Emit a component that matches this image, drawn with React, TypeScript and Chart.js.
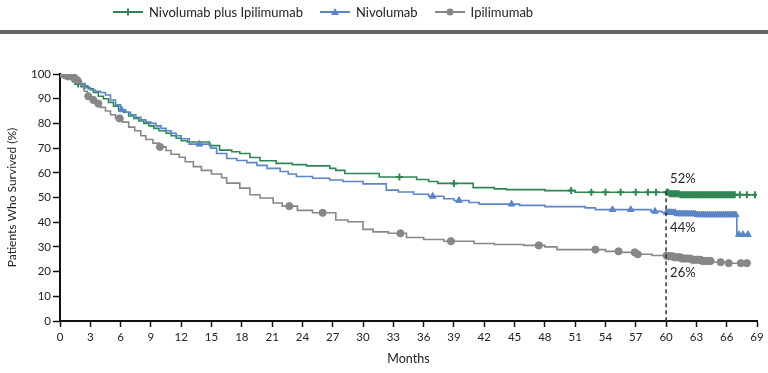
import React, { useEffect, useRef } from 'react';
import { Chart, registerables } from 'chart.js';

Chart.register(...registerables);

// ---------------- data ----------------
const seriesNames = ['Nivolumab plus Ipilimumab', 'Nivolumab', 'Ipilimumab'];
const seriesColors = ['#2F8653', '#5B85C6', '#878787'];

const monthTicks = [0, 3, 6, 9, 12, 15, 18, 21, 24, 27, 30, 33, 36, 39, 42, 45, 48, 51, 54, 57, 60, 63, 66, 69];
const survivalTicks = [0, 10, 20, 30, 40, 50, 60, 70, 80, 90, 100];

// Kaplan-Meier steps: [month, survival % after the drop]
const comboSteps: [number, number][] = [
  [0, 100], [0.5, 99], [1, 98], [1.4, 97], [1.8, 96], [2.3, 95], [2.8, 94], [3.3, 92.5], [3.8, 91],
  [4.3, 90], [4.8, 88.5], [5.3, 87], [5.8, 85.5], [6.3, 84.5], [6.8, 83], [7.3, 82], [7.8, 81],
  [8.3, 80], [8.8, 79], [9.3, 78], [9.8, 77], [10.5, 76], [11, 75], [11.5, 74], [12, 73], [12.6, 72.5],
  [14.8, 71], [15.8, 69.2], [17, 68.5], [17.8, 67.8], [18.8, 66.2], [19.8, 64.9], [21.4, 63.8],
  [23, 63.3], [24.4, 62.8], [26.7, 61.8], [27.3, 61], [28.2, 59.7], [31.6, 58.3], [35.3, 57.3],
  [36.5, 56.5], [37.4, 55.7], [40.9, 54], [43, 53.5], [44.2, 53.2], [48, 52.8], [51, 52.1],
  [60.3, 51.5], [61.3, 51.1], [69, 51.1],
];
const nivoSteps: [number, number][] = [
  [0, 100], [0.5, 99], [1, 98], [1.5, 97], [2, 96], [2.5, 94.5], [3, 93.5], [3.5, 93], [4, 92.5],
  [4.5, 91.5], [5, 89.5], [5.5, 87.5], [6, 85.5], [6.5, 84.5], [7, 83.5], [7.5, 82.5], [8, 81.5], [8.5, 80.5],
  [9, 80], [9.5, 79], [10, 78], [10.5, 77], [11, 76], [11.5, 75], [12, 73.8], [12.8, 71.6],
  [14.9, 70], [15.5, 67.8], [16.5, 65.8], [17.5, 65], [18.5, 64.1], [19.5, 63], [20.5, 61.8],
  [21.8, 60.5], [22.6, 59.5], [23.4, 58.5], [25, 57.8], [26.7, 57.1], [28, 56.5], [30, 55.5],
  [32.3, 53], [33.5, 52.2], [35, 51.3], [36.5, 50.5], [38, 49.5], [39, 48.8], [40.5, 48], [41.5, 47.3],
  [45.5, 46.8], [48, 46.3], [52, 45.8], [53, 45.1], [58.5, 44.4], [59.6, 43.9], [61, 43.4], [63, 43],
  [67, 35], [68.1, 35],
];
const ipiSteps: [number, number][] = [
  [0, 100], [0.3, 99.5], [0.7, 99], [1.2, 98.5], [1.7, 97.5], [2.1, 95.5], [2.4, 93], [2.7, 91],
  [3.1, 89.5], [3.5, 88], [4, 86.5], [4.5, 85], [5, 83.5], [5.5, 82], [6.2, 80.5], [6.8, 78.5],
  [7.4, 77], [8, 75], [8.5, 73.5], [9.2, 72], [9.8, 70.5], [10.5, 69], [11, 67.5], [11.8, 66.3],
  [12.4, 64.5], [13.2, 62.5], [14, 61], [15, 59.5], [16, 58], [16.5, 55.8], [17.8, 53.8], [18.8, 51.1],
  [19.8, 49.8], [21.1, 47.8], [22, 46.5], [23.5, 44.8], [25, 43.8], [27.3, 40.9], [28.5, 40.2],
  [30, 37.1], [31, 36.1], [32.5, 35.5], [34.3, 33.8], [36, 33], [38, 32.3], [41, 31.4], [43, 31],
  [45.9, 30.6], [48, 30], [49.2, 28.9], [54, 28.2], [55.5, 27.8], [57, 27], [58.6, 26.5], [60.2, 26.2],
  [60.8, 25.8], [61.5, 25.3], [62.5, 24.8], [63.5, 24.3], [64.6, 23.8], [66, 23.4], [68, 23.4],
];

// censoring marks (months)
const comboCensor = [
  1.5, 1.8, 2.1, 2.4, 33.6, 39, 50.6, 52.6, 54, 55.5, 57, 58.2, 59,
  60.05, 60.2, 60.35, 60.5, 60.65, 60.8, 60.95, 61.1, 61.25, 61.4, 61.55, 61.7, 61.85, 62, 62.15,
  62.3, 62.45, 62.6, 62.75, 62.9, 63.05, 63.2, 63.35, 63.5, 63.65, 63.8, 63.95, 64.1, 64.25, 64.4,
  64.55, 64.7, 64.85, 65, 65.15, 65.3, 65.45, 65.6, 65.75, 65.9, 66.05, 66.2, 66.35, 66.5, 66.65,
  66.8, 67.3, 68, 68.8,
];
const nivoCensor = [
  6.1, 13.8, 36.9, 39.5, 44.7, 54.7, 56.5, 58.9,
  60.05, 60.2, 60.35, 60.5, 60.7, 60.9, 61.1, 61.3, 61.5, 61.7, 61.9, 62.1, 62.3, 62.5, 62.7, 62.9,
  63.1, 63.3, 63.5, 63.7, 63.9, 64.1, 64.3, 64.5, 64.7, 64.9, 65.1, 65.3, 65.5, 65.7, 65.9, 66.1,
  66.3, 66.5, 66.7, 66.9, 67.2, 67.6, 68.1,
];
const ipiCensor = [
  0.2, 0.5, 0.8, 1.1, 1.4, 1.7, 2.8, 3.3, 3.8, 5.9, 9.9, 22.7, 26, 33.7, 38.7, 47.4, 53, 55.3, 56.9, 57.2,
  60.05, 60.2, 60.35, 60.5, 60.65, 60.8, 60.95, 61.1, 61.25, 61.4, 61.55, 61.7, 61.85, 62, 62.2, 62.4,
  62.6, 62.8, 63, 63.2, 63.4, 63.6, 63.8, 64, 64.2, 64.4, 65.4, 66.2, 67.4, 68,
];

const landmarkMonth = 60;
const landmarkValues = [52, 44, 26];
const landmarkLabels = ['52%', '44%', '26%'];

// ---------------- helpers ----------------
function survivalAt(steps: [number, number][], t: number): number {
  let v = steps[0][1];
  for (const [m, s] of steps) {
    if (m <= t) v = s;
    else break;
  }
  return v;
}

const FONT = 'Lato, "Open Sans", sans-serif';
const TEXT = '#222222';

const landmarkPlugin = {
  id: 'landmark',
  afterDatasetsDraw(chart: any) {
    const { ctx } = chart;
    const xs = chart.scales.x;
    const ys = chart.scales.y;
    const x = xs.getPixelForValue(landmarkMonth);
    ctx.save();
    ctx.strokeStyle = '#333333';
    ctx.lineWidth = 1.5;
    ctx.setLineDash([4, 3]);
    ctx.beginPath();
    ctx.moveTo(x, ys.getPixelForValue(Math.max(...landmarkValues) + 0.5));
    ctx.lineTo(x, ys.getPixelForValue(0));
    ctx.stroke();
    ctx.setLineDash([]);
    ctx.fillStyle = TEXT;
    ctx.font = `13px ${FONT}`;
    ctx.textAlign = 'left';
    ctx.textBaseline = 'middle';
    const offsets = [-14, 15, 16];
    landmarkValues.forEach((v, i) => {
      ctx.fillText(landmarkLabels[i], x + 4, ys.getPixelForValue(v) + offsets[i]);
    });
    ctx.restore();
  },
};

function LegendIcon({ idx }: { idx: number }) {
  const c = seriesColors[idx];
  return (
    <svg width={30} height={10} style={{ display: 'block' }}>
      <line x1={0} y1={5} x2={30} y2={5} stroke={c} strokeWidth={2} />
      {idx === 0 && (
        <g stroke={c} strokeWidth={2}>
          <line x1={15} y1={1.5} x2={15} y2={8.5} />
          <line x1={11.5} y1={5} x2={18.5} y2={5} />
        </g>
      )}
      {idx === 1 && <polygon points="15,1 19,8 11,8" fill={c} />}
      {idx === 2 && <circle cx={15} cy={5} r={3.5} fill={c} />}
    </svg>
  );
}

export default function App() {
  const canvasRef = useRef<HTMLCanvasElement | null>(null);

  useEffect(() => {
    if (!canvasRef.current) return;
    const stepsList = [comboSteps, nivoSteps, ipiSteps];
    const censorList = [comboCensor, nivoCensor, ipiCensor];
    const styles = ['cross', 'triangle', 'circle'];
    const radii = [3.5, 3.8, 3.6];

    const lineSets = stepsList.map((steps, i) => ({
      type: 'line' as const,
      label: seriesNames[i],
      data: steps.map(([m, s]) => ({ x: m, y: s })),
      borderColor: seriesColors[i],
      backgroundColor: seriesColors[i],
      borderWidth: 1.6,
      stepped: 'before' as const,
      pointRadius: 0,
      fill: false,
      order: 3 - i,
    }));
    const censorSets = censorList.map((cens, i) => ({
      type: 'scatter' as const,
      label: seriesNames[i] + ' censored',
      data: cens.map((m) => ({ x: m, y: survivalAt(stepsList[i], m) })),
      pointStyle: styles[i],
      pointRadius: radii[i],
      borderWidth: i === 0 ? 2 : 1,
      borderColor: seriesColors[i],
      backgroundColor: seriesColors[i],
      showLine: false,
      order: 3 - i,
    }));

    const chart = new Chart(canvasRef.current, {
      type: 'line',
      data: { datasets: [...lineSets, ...censorSets] as any },
      options: {
        animation: false,
        responsive: false,
        layout: { padding: { top: 74, right: 11, bottom: 0, left: 0 } },
        plugins: { legend: { display: false }, tooltip: { enabled: false } },
        scales: {
          x: {
            type: 'linear',
            min: 0,
            max: 69,
            afterBuildTicks: (axis: any) => {
              axis.ticks = monthTicks.map((v) => ({ value: v }));
            },
            afterFit: (s: any) => {
              s.height = 52;
            },
            ticks: { color: TEXT, font: { family: FONT, size: 11.5 }, padding: 3, autoSkip: false, maxRotation: 0 },
            grid: { display: true, drawOnChartArea: false, drawTicks: true, tickLength: 6, tickColor: '#111', tickWidth: 1.5 },
            border: { display: true, color: '#111', width: 2 },
            title: { display: true, text: 'Months', color: TEXT, font: { family: FONT, size: 12.5 }, padding: { top: 2, bottom: 7 } },
          },
          y: {
            type: 'linear',
            min: 0,
            max: 100,
            afterBuildTicks: (axis: any) => {
              axis.ticks = survivalTicks.map((v) => ({ value: v }));
            },
            afterFit: (s: any) => {
              s.width = 60;
            },
            ticks: { color: TEXT, font: { family: FONT, size: 11.5 }, padding: 2 },
            grid: { display: true, drawOnChartArea: false, drawTicks: true, tickLength: 7, tickColor: '#111', tickWidth: 1.5 },
            border: { display: true, color: '#111', width: 2 },
            title: { display: true, text: 'Patients Who Survived (%)', color: TEXT, font: { family: FONT, size: 12 }, padding: { top: 5, bottom: 2 } },
          },
        },
      } as any,
      plugins: [landmarkPlugin],
    });
    return () => chart.destroy();
  }, []);

  return (
    <div style={{ position: 'absolute', left: 0, top: 0, width: 768, height: 373, background: '#fff', overflow: 'hidden' }}>
      <canvas ref={canvasRef} width={768} height={373} style={{ position: 'absolute', left: 0, top: 0, width: 768, height: 373 }} />
      <div
        style={{
          position: 'absolute', left: 113, top: 3, height: 18, display: 'flex', alignItems: 'center',
          fontFamily: FONT, fontSize: 13, color: TEXT, whiteSpace: 'nowrap',
        }}
      >
        {seriesNames.map((name, i) => (
          <div key={name} style={{ display: 'flex', alignItems: 'center', marginRight: 17 }}>
            <LegendIcon idx={i} />
            <span style={{ marginLeft: 6 }}>{name}</span>
          </div>
        ))}
      </div>
      <div style={{ position: 'absolute', left: 0, top: 30, width: 768, height: 4, background: '#666666' }} />
    </div>
  );
}
